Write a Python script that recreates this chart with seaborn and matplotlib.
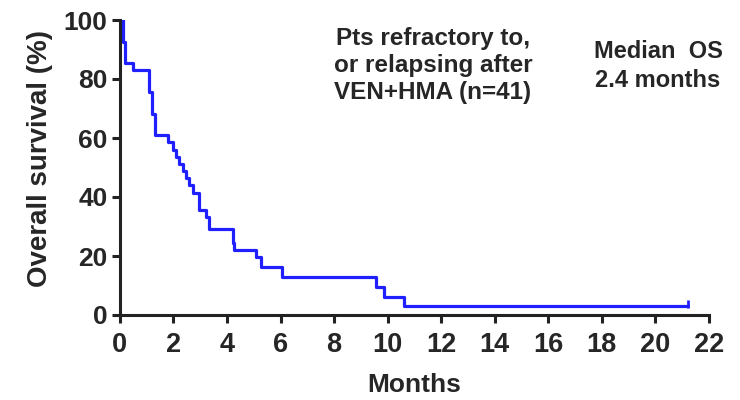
import matplotlib
matplotlib.use("Agg")
import matplotlib.pyplot as plt
import seaborn as sns
import pandas as pd

# Kaplan-Meier step data
months = [0, 0.12, 0.18, 0.49, 1.07, 1.20, 1.30, 1.78, 1.97, 2.10, 2.22, 2.34,
          2.47, 2.59, 2.72, 2.97, 3.22, 3.34, 4.21, 4.27, 5.08, 5.27, 6.07,
          9.56, 9.87, 10.6, 21.2]
survival = [100, 92.7, 85.4, 82.9, 75.6, 68.3, 61.0, 58.5, 56.1, 53.7, 51.2, 48.8,
            46.3, 43.9, 41.5, 35.6, 33.3, 29.3, 24.4, 22.0, 19.5, 16.4, 13.0,
            9.6, 6.2, 3.0, 3.0]
censor_months = [21.2]
censor_surv = [3.6]
x_ticks = list(range(0, 23, 2))
y_ticks = [0, 20, 40, 60, 80, 100]

sns.set_style("ticks")
plt.rcParams['font.family'] = ['Liberation Sans', 'DejaVu Sans']
plt.rcParams['font.weight'] = 'bold'

df = pd.DataFrame({"Months": months, "Survival": survival})

fig = plt.figure(figsize=(7.4, 4.0), dpi=100)
ax = fig.add_axes([0.162, 0.2125, 0.796, 0.7375])

sns.lineplot(data=df, x="Months", y="Survival", ax=ax, drawstyle="steps-post",
             color="#1f1fff", linewidth=2.3, estimator=None, sort=False)
sns.scatterplot(x=censor_months, y=censor_surv, ax=ax, marker="|", s=30,
                color="#1f1fff", linewidth=2.0)

ax.set_xlim(0, 22)
ax.set_ylim(0, 100)
ax.set_xticks(x_ticks)
ax.set_yticks(y_ticks)
ax.set_xticklabels([str(v) for v in x_ticks], fontsize=19.5, fontweight='bold')
ax.set_yticklabels([str(v) for v in y_ticks], fontsize=19, fontweight='bold')
ax.set_xlabel("Months", fontsize=19, fontweight='bold')
ax.set_ylabel("Overall survival (%)", fontsize=20, fontweight='bold')
ax.xaxis.set_label_coords(0.5, -0.197)
ax.yaxis.set_label_coords(-0.113, 0.53)

for side in ["left", "bottom"]:
    ax.spines[side].set_linewidth(2.2)
    ax.spines[side].set_color("#222222")
sns.despine(ax=ax)
ax.tick_params(axis="both", direction="out", length=6, width=2.2, color="#222222")
ax.tick_params(axis="x", pad=6)
ax.tick_params(axis="y", pad=3)

fig.text(433 / 740, 1 - 27 / 400, "Pts refractory to,\nor relapsing after\nVEN+HMA (n=41)",
         fontsize=17.5, fontweight='bold', ha="center", va="top", linespacing=1.22)
fig.text(658 / 740, 1 - 40 / 400, "Median  OS", fontsize=17, fontweight='bold',
         ha="center", va="top")
fig.text(658 / 740, 1 - 69 / 400, "2.4 months", fontsize=17, fontweight='bold',
         ha="center", va="top")

fig.savefig("out.png", dpi=100)
